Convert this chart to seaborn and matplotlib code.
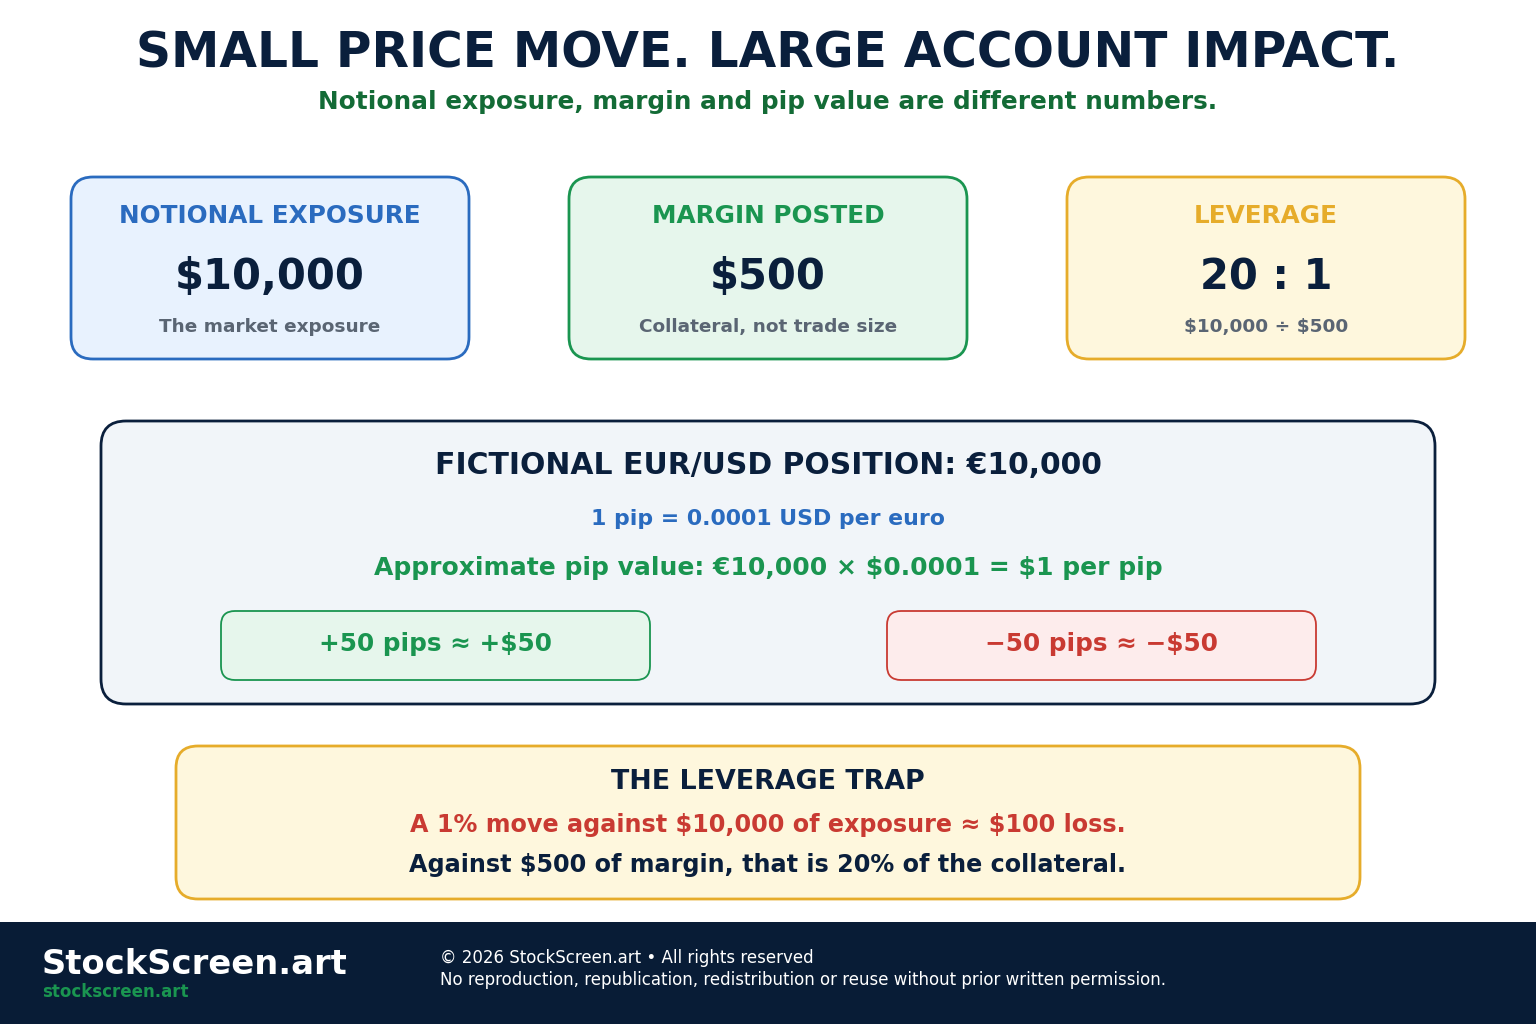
import matplotlib
matplotlib.use("Agg")
import matplotlib.pyplot as plt
import seaborn as sns
from matplotlib.patches import FancyBboxPatch, Rectangle

sns.set_theme(style="white")
plt.rcParams['font.family'] = ['DejaVu Sans']
plt.rcParams['text.parse_math'] = False

title = "SMALL PRICE MOVE. LARGE ACCOUNT IMPACT."
subtitle = "Notional exposure, margin and pip value are different numbers."
card_titles = ["NOTIONAL EXPOSURE", "MARGIN POSTED", "LEVERAGE"]
card_values = ["$10,000", "$500", "20 : 1"]
card_notes = ["The market exposure", "Collateral, not trade size", "$10,000 ÷ $500"]
card_edge = ["#2a6bbf", "#1a9550", "#e6ac2a"]
card_face = ["#e8f2fe", "#e6f6ec", "#fef7dd"]
card_title_col = ["#2a6bbf", "#1a9550", "#e6ac2a"]
panel_title = "FICTIONAL EUR/USD POSITION: €10,000"
panel_line1 = "1 pip = 0.0001 USD per euro"
panel_line2 = "Approximate pip value: €10,000 × $0.0001 = $1 per pip"
pip_labels = ["+50 pips ≈ +$50", "−50 pips ≈ −$50"]
trap_title = "THE LEVERAGE TRAP"
trap_line1 = "A 1% move against $10,000 of exposure ≈ $100 loss."
trap_line2 = "Against $500 of margin, that is 20% of the collateral."
brand = "StockScreen.art"
brand_url = "stockscreen.art"
copy1 = "© 2026 StockScreen.art • All rights reserved"
copy2 = "No reproduction, republication, redistribution or reuse without prior written permission."

NAVY = "#0a1f3c"
fig = plt.figure(figsize=(15.36, 10.24), dpi=100)
ax = fig.add_axes([0, 0, 1, 1])
ax.set_xlim(0, 1536); ax.set_ylim(1024, 0); ax.axis("off")

def box(x, y, w, h, fc, ec, lw=2, r=22):
    ax.add_patch(FancyBboxPatch((x + r, y + r), w - 2*r, h - 2*r,
                 boxstyle=f"round,pad={r}", fc=fc, ec=ec, lw=lw))

def t(x, y, s, size, color, weight="bold"):
    ax.text(x, y, s, ha="center", va="center", fontsize=size, color=color, fontweight=weight)

t(768, 54, title, 35, NAVY)
t(768, 102, subtitle, 17.8, "#136b36")

xs = [71, 569, 1067]
for i, x in enumerate(xs):
    box(x, 177, 398, 182, card_face[i], card_edge[i])
    cx = x + 199
    t(cx, 216, card_titles[i], 17.8, card_title_col[i])
    t(cx, 277, card_values[i], 30, NAVY)
    t(cx, 327, card_notes[i], 13.3, "#5a6573")

box(101, 421, 1334, 283, "#f1f5f9", NAVY, r=25)
t(768, 465, panel_title, 21.5, NAVY)
t(768, 519, panel_line1, 15.8, "#2a6bbf")
t(768, 568, panel_line2, 18, "#1a9550")
box(221, 611, 429, 69, "#e6f6ec", "#1a9550", lw=1.3, r=14)
t(435, 644, pip_labels[0], 17.8, "#1a9550")
box(887, 611, 429, 69, "#fdecec", "#c93a32", lw=1.3, r=14)
t(1101, 644, pip_labels[1], 17.8, "#c93a32")

box(176, 746, 1184, 153, "#fef7dd", "#e6ac2a", r=22)
t(768, 782, trap_title, 19.4, NAVY)
t(768, 825, trap_line1, 17.2, "#c93a32")
t(768, 865, trap_line2, 17.2, NAVY)

ax.add_patch(Rectangle((0, 922), 1536, 102, fc="#081c36", ec="none"))
ax.text(42, 965, brand, ha="left", va="center", fontsize=24.3, color="white", fontweight="bold")
ax.text(42, 992, brand_url, ha="left", va="center", fontsize=12, color="#1a9550", fontweight="bold")
ax.text(440, 958, copy1, ha="left", va="center", fontsize=12, color="white")
ax.text(440, 980, copy2, ha="left", va="center", fontsize=12, color="white")

fig.savefig("out.png", dpi=100, facecolor="white")
